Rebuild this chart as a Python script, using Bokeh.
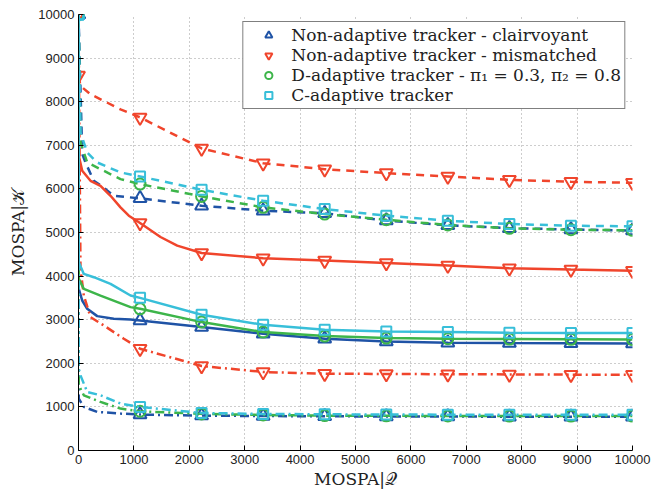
from bokeh.plotting import figure
from bokeh.models import Legend, LegendItem, FixedTicker
from bokeh.embed import file_html
from bokeh.resources import INLINE

# ---------------- data ----------------
X_TICKS = [0, 1000, 2000, 3000, 4000, 5000, 6000, 7000, 8000, 9000, 10000]
Y_TICKS = [0, 1000, 2000, 3000, 4000, 5000, 6000, 7000, 8000, 9000, 10000]
MARKER_X = [0, 1111, 2222, 3333, 4444, 5556, 6667, 7778, 8889, 10000]
TAIL_X = [1111, 2222, 3333, 4444, 5556, 6667, 7778, 8889, 10000]

LABELS = [
    "Non-adaptive tracker - clairvoyant",
    "Non-adaptive tracker - mismatched",
    "D-adaptive tracker - \u03c0\u2081 = 0.3, \u03c0\u2082 = 0.8",
    "C-adaptive tracker",
]

# Non-adaptive, clairvoyant
clair_solid_x = [0, 5, 67, 157, 338, 637, 939] + TAIL_X
clair_solid_y = [10000, 3707, 3440, 3249, 3082, 3021, 3005,
                 2982, 2830, 2677, 2563, 2502, 2471, 2465, 2460, 2455]
clair_dash_x = [0, 67, 126, 276, 427, 637] + TAIL_X
clair_dash_y = [10000, 6800, 6606, 6186, 6057, 5842,
                5783, 5614, 5499, 5440, 5275, 5165, 5100, 5070, 5045]
clair_dd_x = [0, 5, 96, 338, 758] + TAIL_X
clair_dd_y = [10000, 1190, 1000, 885, 847,
              824, 800, 790, 785, 780, 778, 776, 775, 775]

# Non-adaptive, mismatched
mism_solid_x = [0, 5, 67, 217, 397, 578, 758, 908, 1111, 1480, 1782,
                2222, 3333, 4444, 5556, 6667, 7778, 8889, 10000]
mism_solid_y = [10000, 6757, 6415, 6186, 6071, 5842, 5577, 5385, 5217, 4897, 4698,
                4531, 4410, 4355, 4302, 4241, 4180, 4149, 4120]
mism_dash_x = [0, 36, 217, 758] + TAIL_X
mism_dash_y = [8600, 8360, 8170, 7826,
               7640, 6927, 6590, 6453, 6362, 6286, 6209, 6163, 6140]
mism_dd_x = [0, 36, 96, 217, 457, 818] + TAIL_X
mism_dd_y = [10000, 4165, 3554, 3059, 2868, 2563,
             2334, 1938, 1801, 1762, 1755, 1750, 1745, 1740, 1735]

# D-adaptive
dad_solid_x = [0, 5, 96, 397, 939] + TAIL_X
dad_solid_y = [10000, 3936, 3707, 3554, 3288,
               3249, 2945, 2716, 2625, 2578, 2563, 2556, 2550, 2545]
dad_dash_x = [0, 36, 157, 457, 758] + TAIL_X
dad_dash_y = [10000, 7064, 6606, 6415, 6224,
              6110, 5828, 5577, 5423, 5293, 5172, 5096, 5064, 5050]
dad_dd_x = [0, 5, 96, 397, 758] + TAIL_X
dad_dd_y = [10000, 1494, 1266, 1114, 961,
            900, 840, 815, 800, 795, 792, 790, 790, 790]

# C-adaptive
cad_solid_x = [0, 5, 96, 276, 578, 939] + TAIL_X
cad_solid_y = [10000, 4318, 4050, 3975, 3822, 3554,
               3501, 3112, 2883, 2769, 2731, 2716, 2700, 2693, 2693]
cad_dash_x = [0, 36, 157, 338, 758] + TAIL_X
cad_dash_y = [10000, 7293, 6835, 6606, 6377,
              6286, 5980, 5728, 5538, 5385, 5270, 5195, 5156, 5141]
cad_dd_x = [0, 5, 36, 157, 397, 758] + TAIL_X
cad_dd_y = [10000, 1876, 1723, 1343, 1266, 1076,
            1000, 860, 840, 830, 825, 822, 820, 820, 820]

# ---------------- styles ----------------
COLORS = ["#1f53a6", "#f0452c", "#3db54a", "#38bfd9"]
MARKERS = ["triangle", "inverted_triangle", "circle", "square"]
MSIZES = [13, 13, 11, 10]
DASHES = ["solid", "8 6", "9 4 2 4"]

SERIES = [
    [(clair_solid_x, clair_solid_y), (clair_dash_x, clair_dash_y), (clair_dd_x, clair_dd_y)],
    [(mism_solid_x, mism_solid_y), (mism_dash_x, mism_dash_y), (mism_dd_x, mism_dd_y)],
    [(dad_solid_x, dad_solid_y), (dad_dash_x, dad_dash_y), (dad_dd_x, dad_dd_y)],
    [(cad_solid_x, cad_solid_y), (cad_dash_x, cad_dash_y), (cad_dd_x, cad_dd_y)],
]

p = figure(width=655, height=496, x_range=(0, 10000), y_range=(0, 10000),
           output_backend="svg", toolbar_location=None,
           min_border_left=78, min_border_right=23, min_border_top=14, min_border_bottom=46)
p.outline_line_color = None
p.background_fill_color = "white"

legend_items = []
for i, group in enumerate(SERIES):
    first_marker_renderer = None
    for j, (xs, ys) in enumerate(group):
        p.line(xs, ys, line_color=COLORS[i], line_width=2.5, line_dash=DASHES[j])
        mx = [x for x in xs if x in MARKER_X]
        my = [y for x, y in zip(xs, ys) if x in MARKER_X]
        r = p.scatter(mx, my, marker=MARKERS[i], size=MSIZES[i], fill_color=None,
                      line_color=COLORS[i], line_width=2)
        if first_marker_renderer is None:
            first_marker_renderer = r
    legend_items.append(LegendItem(label=LABELS[i], renderers=[first_marker_renderer]))

# axes
for ax, ticks in ((p.xaxis, X_TICKS), (p.yaxis, Y_TICKS)):
    ax.ticker = FixedTicker(ticks=ticks)
    ax.minor_tick_line_color = None
    ax.major_tick_in = 5
    ax.major_tick_out = 0
    ax.axis_line_color = "black"
    ax.major_tick_line_color = "black"
    ax.major_label_text_font = "Liberation Sans"
    ax.major_label_text_font_size = "13px"
    ax.major_label_text_color = "#222222"
    ax.major_label_standoff = 4
    ax.axis_label_text_font = "DejaVu Serif"
    ax.axis_label_text_font_size = "17px"
    ax.axis_label_text_font_style = "normal"
    ax.axis_label_text_color = "#222222"
    ax.axis_label_standoff = 2
p.yaxis.axis_label_standoff = 7

p.xaxis.axis_label = "MOSPA|\U0001D4AC"
p.yaxis.axis_label = "MOSPA|\U0001D4A6"

p.grid.grid_line_color = "#9a9a9a"
p.grid.grid_line_dash = "1 3"
p.grid.grid_line_width = 1
p.xgrid.ticker = FixedTicker(ticks=X_TICKS)
p.ygrid.ticker = FixedTicker(ticks=Y_TICKS)

legend = Legend(items=legend_items, location="top_right")
legend.margin = 7
legend.padding = 3
legend.spacing = 0
legend.glyph_width = 44
legend.glyph_height = 18
legend.label_height = 18
legend.label_standoff = 1
legend.label_text_font = "DejaVu Serif"
legend.label_text_font_size = "17px"
legend.label_text_color = "#222222"
legend.border_line_color = "black"
legend.border_line_width = 1
legend.background_fill_alpha = 1.0
p.add_layout(legend)

open("out.html", "w").write(file_html(p, INLINE))
